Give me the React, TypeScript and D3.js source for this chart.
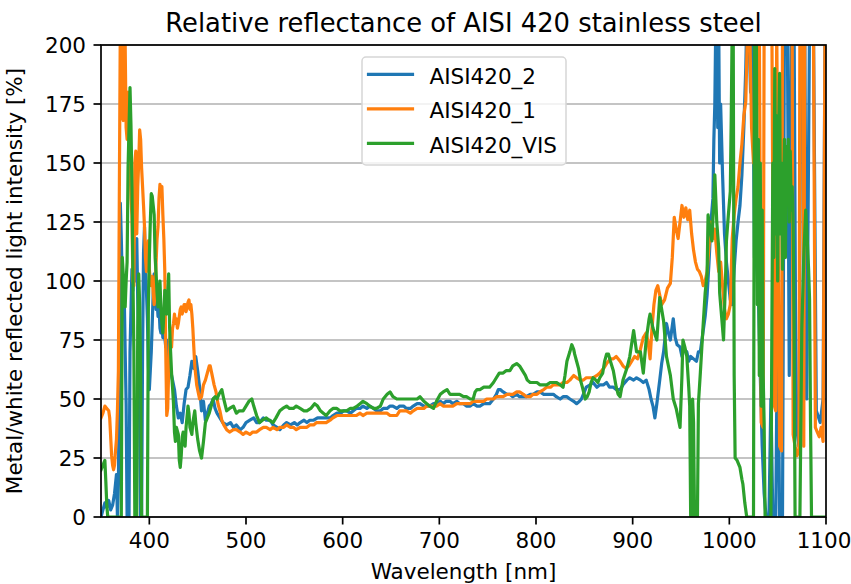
import React from 'react';
import * as d3 from 'd3';

// ---- data: wavelength [nm], metal/white reflected intensity [%] ----
const AISI420_2: [number, number][] = [
  [350, 0], [352, 3], [354, 6], [356, 4], [358, 7], [360, 3], [362, 5], [364, 10], [366, 18], [367, 0],
  [368, 14], [369, 60], [370, 133], [371, 118], [372, 100], [373, 86], [374, 95], [375, 70], [376, 48], [377, 0],
  [379, 0], [380, 70], [382, 105], [383, 96], [384, 112], [386, 100], [387, 118], [388, 92], [389, 72], [390, 40],
  [391, 0], [392, 0], [393, 70], [394, 112], [395, 123], [396, 105], [397, 96], [398, 84], [399, 64], [400, 54],
  [401, 62], [402, 70], [403, 82], [404, 95], [405, 103], [406, 96], [407, 88], [408, 92], [409, 85], [410, 89],
  [411, 80], [412, 78], [413, 82], [414, 76], [415, 80], [416, 76], [417, 72], [418, 75], [420, 66], [421, 70],
  [422, 62], [424, 58], [426, 54], [428, 47], [430, 42], [432, 44], [434, 40], [436, 48], [438, 54], [440, 55],
  [442, 60], [444, 66], [446, 63], [448, 68], [450, 62], [452, 55], [454, 45], [456, 49], [458, 41], [460, 44],
  [462, 47], [464, 48], [466, 50], [468, 46], [470, 44], [473, 42], [476, 40], [480, 39], [484, 40], [487, 38],
  [490, 39], [494, 37], [497, 38], [500, 40], [504, 41], [508, 42], [511, 40], [514, 40], [518, 42], [521, 41],
  [525, 41], [528, 39], [532, 38], [535, 37], [539, 39], [542, 40], [546, 39], [550, 40], [553, 39], [556, 40],
  [560, 41], [563, 40], [566, 41], [570, 41], [574, 42], [578, 42], [583, 42], [587, 42], [590, 43], [594, 44],
  [598, 44], [601, 45], [604, 45], [608, 44], [611, 45], [614, 46], [618, 46], [621, 47], [625, 46], [628, 47],
  [632, 46], [635, 45], [639, 45], [642, 46], [646, 46], [649, 47], [652, 47], [656, 46], [659, 47], [663, 47],
  [666, 46], [670, 46], [673, 47], [677, 48], [680, 48], [684, 47], [687, 47], [690, 47], [694, 48], [697, 48],
  [701, 49], [704, 48], [707, 49], [711, 49], [714, 48], [718, 49], [721, 48], [725, 48], [728, 47], [732, 47],
  [735, 48], [739, 47], [742, 47], [746, 48], [749, 48], [752, 48], [756, 50], [759, 52], [761, 54], [763, 54],
  [766, 53], [770, 52], [773, 52], [776, 51], [780, 52], [783, 51], [787, 51], [790, 51], [794, 52], [797, 52],
  [801, 53], [804, 53], [808, 52], [811, 52], [815, 52], [818, 52], [821, 51], [825, 50], [828, 51], [832, 51],
  [835, 50], [839, 49], [842, 48], [845, 49], [847, 50], [850, 53], [852, 55], [856, 56], [859, 57], [863, 55],
  [866, 56], [870, 56], [873, 57], [876, 55], [880, 55], [883, 54], [887, 54], [890, 56], [894, 58], [897, 59],
  [901, 58], [904, 59], [908, 58], [911, 57], [914, 58], [917, 54], [919, 50], [921, 47], [923, 42], [925, 48],
  [928, 58], [930, 65], [932, 70], [935, 82], [937, 78], [939, 75], [942, 84], [944, 76], [946, 73], [949, 72],
  [951, 68], [953, 71], [956, 70], [958, 66], [960, 68], [963, 67], [966, 66], [968, 70], [970, 70], [972, 76],
  [975, 85], [977, 94], [979, 108], [981, 125], [983, 135], [984, 160], [985, 175], [986, 210], [987, 210], [988, 165],
  [989, 210], [990, 150], [991, 175], [993, 145], [995, 120], [997, 108], [999, 100], [1001, 92], [1003, 90], [1005, 105],
  [1007, 117], [1009, 125], [1011, 132], [1013, 145], [1015, 165], [1017, 190], [1018, 210], [1020, 210], [1022, 180], [1024, 210],
  [1026, 110], [1028, 108], [1030, 95], [1032, 60], [1034, 30], [1036, 10], [1038, 0], [1041, 0], [1043, 50], [1045, 0],
  [1048, 0], [1050, 90], [1052, 0], [1055, 0], [1057, 210], [1060, 210], [1062, 60], [1064, 210], [1067, 210], [1069, 40],
  [1072, 30], [1074, 210], [1078, 210], [1080, 50], [1083, 210], [1087, 210], [1090, 45], [1094, 40], [1097, 50], [1099, 210],
  [1100, 210],
];

const AISI420_1: [number, number][] = [
  [350, 42], [352, 44], [354, 47], [356, 46], [358, 45], [359, 42], [361, 26], [362, 22], [363, 20], [364, 22],
  [365, 28], [366, 33], [367, 45], [368, 62], [369, 140], [370, 210], [371, 190], [372, 170], [373, 168], [374, 210],
  [375, 200], [376, 165], [377, 160], [378, 180], [379, 160], [380, 150], [381, 135], [382, 128], [383, 100], [384, 98],
  [385, 150], [386, 155], [387, 120], [388, 140], [389, 150], [390, 164], [391, 160], [392, 148], [393, 140], [394, 132],
  [395, 123], [396, 110], [397, 104], [398, 112], [399, 117], [400, 105], [401, 100], [402, 98], [403, 102], [404, 95],
  [405, 90], [406, 96], [407, 108], [408, 118], [409, 123], [410, 135], [411, 141], [412, 138], [413, 140], [414, 128],
  [415, 118], [416, 104], [417, 70], [418, 43], [419, 46], [420, 62], [421, 75], [422, 78], [423, 72], [424, 80],
  [425, 82], [426, 86], [427, 82], [428, 84], [429, 80], [430, 82], [431, 85], [432, 88], [433, 89], [434, 86],
  [435, 88], [436, 90], [437, 90], [438, 87], [439, 89], [440, 91], [441, 92], [442, 88], [443, 90], [444, 86],
  [445, 80], [446, 72], [447, 64], [448, 60], [449, 56], [450, 54], [452, 50], [454, 51], [456, 56], [458, 58],
  [460, 61], [462, 64], [463, 64], [465, 60], [467, 56], [469, 53], [471, 48], [473, 45], [475, 41], [477, 39],
  [480, 37], [483, 36], [487, 37], [490, 37], [494, 36], [497, 35], [500, 36], [504, 35], [507, 36], [511, 36],
  [514, 37], [518, 38], [521, 38], [525, 37], [528, 38], [532, 37], [535, 38], [539, 38], [542, 39], [546, 38],
  [549, 38], [552, 37], [556, 38], [560, 38], [563, 38], [566, 39], [570, 39], [573, 40], [577, 40], [580, 40],
  [583, 40], [587, 41], [590, 42], [594, 43], [597, 43], [601, 43], [604, 43], [608, 43], [611, 43], [614, 43],
  [618, 44], [621, 43], [625, 44], [628, 44], [632, 44], [635, 44], [639, 44], [642, 44], [646, 44], [649, 43],
  [652, 43], [656, 43], [659, 45], [663, 45], [666, 45], [670, 44], [673, 45], [677, 46], [680, 46], [684, 46],
  [687, 47], [690, 47], [694, 47], [697, 47], [701, 48], [704, 47], [707, 47], [711, 47], [714, 47], [718, 48],
  [721, 48], [725, 48], [728, 48], [732, 48], [735, 49], [739, 49], [742, 49], [746, 49], [749, 50], [752, 50],
  [756, 50], [759, 51], [763, 51], [766, 51], [770, 52], [773, 52], [776, 52], [780, 53], [783, 53], [787, 52],
  [790, 51], [794, 51], [797, 52], [801, 52], [804, 53], [808, 54], [811, 55], [815, 55], [818, 56], [821, 56],
  [825, 56], [828, 57], [832, 57], [835, 58], [839, 60], [842, 59], [846, 58], [849, 58], [852, 59], [856, 59],
  [859, 59], [863, 60], [866, 61], [870, 63], [873, 65], [877, 67], [880, 67], [883, 68], [887, 66], [890, 64],
  [893, 63], [896, 64], [899, 66], [902, 68], [905, 67], [908, 71], [911, 76], [914, 78], [916, 74], [918, 67],
  [920, 80], [922, 90], [924, 96], [926, 98], [928, 94], [930, 90], [933, 92], [936, 97], [939, 99], [941, 110],
  [943, 127], [945, 122], [947, 118], [949, 125], [951, 132], [953, 127], [955, 131], [957, 126], [959, 130], [961, 120],
  [963, 113], [965, 108], [967, 105], [969, 104], [971, 102], [973, 98], [975, 100], [977, 104], [979, 115], [981, 125],
  [983, 118], [985, 122], [987, 112], [989, 104], [991, 108], [993, 98], [995, 88], [997, 84], [999, 86], [1001, 90],
  [1003, 118], [1005, 128], [1007, 135], [1009, 140], [1011, 150], [1013, 158], [1015, 170], [1017, 176], [1019, 210], [1021, 210],
  [1023, 165], [1025, 150], [1027, 160], [1029, 210], [1031, 210], [1033, 40], [1035, 38], [1036, 210], [1040, 210], [1044, 210],
  [1046, 48], [1048, 45], [1049, 210], [1052, 30], [1054, 28], [1055, 210], [1058, 210], [1062, 210], [1065, 210], [1066, 35],
  [1068, 30], [1070, 26], [1072, 28], [1073, 210], [1076, 210], [1077, 30], [1078, 210], [1083, 210], [1087, 210], [1089, 38],
  [1091, 36], [1093, 34], [1095, 38], [1097, 32], [1099, 210], [1100, 210],
];

const AISI420_VIS: [number, number][] = [
  [350, 20], [352, 22], [354, 24], [355, 15], [356, 5], [357, 0], [371, 0], [372, 110], [373, 103], [374, 95],
  [375, 89], [376, 100], [377, 108], [378, 148], [379, 165], [380, 182], [381, 166], [382, 140], [383, 103], [384, 70],
  [385, 0], [387, 0], [388, 80], [389, 103], [390, 90], [391, 60], [392, 0], [398, 0], [399, 89], [400, 110],
  [401, 125], [402, 137], [403, 136], [404, 132], [405, 128], [406, 110], [407, 103], [408, 95], [409, 89], [410, 95],
  [411, 100], [412, 88], [413, 82], [414, 78], [415, 86], [416, 96], [417, 92], [418, 86], [419, 95], [420, 103],
  [421, 80], [422, 70], [423, 61], [424, 55], [425, 48], [426, 36], [427, 32], [428, 38], [430, 35], [431, 24],
  [432, 21], [433, 26], [434, 34], [435, 36], [436, 32], [437, 30], [438, 38], [440, 47], [441, 44], [442, 38],
  [444, 35], [445, 40], [447, 45], [448, 40], [450, 33], [452, 28], [454, 25], [456, 32], [458, 40], [460, 42],
  [462, 44], [464, 47], [466, 50], [468, 51], [470, 50], [472, 52], [475, 54], [477, 50], [480, 45], [483, 46],
  [487, 47], [490, 44], [493, 45], [497, 45], [500, 47], [503, 49], [506, 50], [508, 47], [511, 43], [514, 40],
  [517, 41], [521, 42], [524, 41], [528, 40], [531, 42], [535, 45], [538, 46], [542, 47], [545, 46], [549, 46],
  [552, 47], [556, 46], [560, 45], [563, 45], [567, 46], [571, 48], [574, 47], [577, 45], [580, 44], [583, 43],
  [587, 45], [590, 46], [594, 46], [597, 45], [601, 45], [604, 45], [608, 46], [611, 46], [615, 47], [618, 48],
  [621, 49], [625, 48], [628, 47], [632, 46], [635, 46], [639, 47], [642, 50], [646, 52], [649, 53], [652, 51],
  [656, 50], [659, 50], [663, 50], [666, 50], [670, 50], [673, 50], [677, 50], [680, 51], [684, 49], [687, 48],
  [690, 47], [694, 46], [697, 49], [701, 52], [704, 53], [708, 54], [711, 52], [714, 52], [718, 52], [721, 52],
  [725, 51], [728, 51], [732, 50], [735, 50], [737, 53], [739, 54], [742, 54], [746, 55], [749, 55], [752, 55],
  [756, 57], [759, 59], [762, 61], [766, 61], [769, 62], [773, 62], [776, 64], [780, 65], [783, 64], [786, 62],
  [789, 60], [791, 58], [794, 57], [797, 57], [801, 57], [804, 56], [808, 56], [811, 56], [815, 57], [818, 57],
  [821, 57], [825, 56], [828, 55], [830, 60], [832, 66], [835, 70], [837, 73], [839, 71], [840, 69], [842, 66],
  [844, 63], [846, 58], [848, 55], [851, 50], [853, 51], [855, 53], [857, 57], [859, 59], [862, 58], [864, 57],
  [866, 59], [869, 61], [871, 66], [873, 69], [875, 69], [877, 66], [880, 62], [883, 55], [885, 52], [887, 51],
  [890, 58], [894, 63], [897, 68], [901, 79], [904, 70], [908, 70], [911, 61], [914, 75], [917, 84], [918, 86],
  [921, 80], [925, 75], [928, 93], [930, 88], [932, 83], [935, 68], [937, 64], [939, 60], [942, 50], [945, 46],
  [947, 42], [949, 38], [951, 60], [952, 75], [954, 72], [956, 68], [958, 55], [959, 47], [960, 0], [961, 0],
  [962, 50], [963, 40], [964, 0], [967, 0], [968, 48], [970, 61], [972, 75], [973, 82], [975, 95], [977, 103],
  [978, 128], [980, 122], [982, 117], [984, 135], [985, 145], [987, 125], [989, 114], [990, 95], [992, 85], [994, 75],
  [996, 100], [997, 117], [999, 128], [1001, 138], [1002, 170], [1003, 210], [1004, 210], [1005, 60], [1006, 25], [1008, 24],
  [1011, 21], [1013, 16], [1014, 14], [1016, 6], [1018, 0], [1025, 0], [1026, 210], [1028, 200], [1029, 90], [1030, 160],
  [1031, 60], [1032, 150], [1033, 47], [1034, 130], [1035, 60], [1036, 40], [1037, 0], [1043, 0], [1044, 80], [1045, 150],
  [1046, 110], [1047, 190], [1048, 120], [1049, 170], [1050, 100], [1051, 160], [1052, 188], [1053, 120], [1054, 150], [1055, 105],
  [1056, 130], [1057, 160], [1058, 110], [1059, 157], [1060, 140], [1061, 160], [1062, 125], [1063, 155], [1064, 130], [1065, 140],
  [1066, 123], [1067, 80], [1068, 0], [1073, 0], [1075, 80], [1077, 110], [1079, 130], [1080, 123], [1082, 105], [1083, 92],
  [1084, 40], [1085, 0], [1100, 0],
];

const seriesNames = ['AISI420_2', 'AISI420_1', 'AISI420_VIS'];
const seriesData = [AISI420_2, AISI420_1, AISI420_VIS];
const seriesColors = ['#1f77b4', '#ff7f0e', '#2ca02c'];

const xTicks = [400, 500, 600, 700, 800, 900, 1000, 1100];
const yTicks = [0, 25, 50, 75, 100, 125, 150, 175, 200];

const titleText = 'Relative reflectance of AISI 420 stainless steel';
const xLabel = 'Wavelength [nm]';
const yLabel = 'Metal/white reflected light intensity [%]';

// ---- layout ----
const W = 851;
const H = 584;
const plot = { left: 101, right: 826, top: 45, bottom: 517 };
const FONT = '"DejaVu Sans", "Liberation Sans", sans-serif';
const fs = 21.5;
const lw = 3.2;
const tickLen = 7.5;

export default function App() {
  const x = d3.scaleLinear().domain([350, 1100]).range([plot.left, plot.right]);
  const y = d3.scaleLinear().domain([0, 200]).range([plot.bottom, plot.top]);
  const line = d3
    .line<[number, number]>()
    .x((d) => x(d[0]))
    .y((d) => y(d[1]));

  const legend = { x0: 362, y0: 57, x1: 566, y1: 165 };
  const rowY = [74.3, 108.8, 143.3];

  // keep the rightmost tick label inside the canvas
  const labelX = (t: number) => Math.min(x(t), W - 27);

  return (
    <svg
      width={W}
      height={H}
      viewBox={`0 0 ${W} ${H}`}
      style={{ position: 'absolute', left: 0, top: 0, background: '#fff' }}
      fontFamily={FONT}
    >
      <defs>
        <clipPath id="plot-area">
          <rect x={plot.left} y={plot.top} width={plot.right - plot.left} height={plot.bottom - plot.top} />
        </clipPath>
      </defs>
      <rect x={0} y={0} width={W} height={H} fill="#fff" />

      {/* horizontal grid */}
      <g>
        {yTicks.map((t) => (
          <line key={t} x1={plot.left} x2={plot.right} y1={y(t)} y2={y(t)} stroke="#b0b0b0" strokeWidth={1.7} />
        ))}
      </g>

      {/* spectra */}
      <g clipPath="url(#plot-area)">
        {seriesData.map((s, i) => (
          <path
            key={seriesNames[i]}
            d={line(s) || ''}
            fill="none"
            stroke={seriesColors[i]}
            strokeWidth={lw}
            strokeLinejoin="round"
            strokeLinecap="square"
          />
        ))}
      </g>

      {/* frame */}
      <rect
        x={plot.left}
        y={plot.top}
        width={plot.right - plot.left}
        height={plot.bottom - plot.top}
        fill="none"
        stroke="#000"
        strokeWidth={1.7}
      />

      {/* x axis */}
      <g fontSize={fs} fill="#000">
        {xTicks.map((t) => (
          <g key={t}>
            <line x1={x(t)} x2={x(t)} y1={plot.bottom} y2={plot.bottom + tickLen} stroke="#000" strokeWidth={1.7} />
            <text x={labelX(t)} y={548} textAnchor="middle">
              {t}
            </text>
          </g>
        ))}
        <text x={(plot.left + plot.right) / 2} y={579} textAnchor="middle">
          {xLabel}
        </text>
      </g>

      {/* y axis */}
      <g fontSize={fs} fill="#000">
        {yTicks.map((t) => (
          <g key={t}>
            <line x1={plot.left - tickLen} x2={plot.left} y1={y(t)} y2={y(t)} stroke="#000" strokeWidth={1.7} />
            <text x={plot.left - tickLen - 7.5} y={y(t) + 7.8} textAnchor="end">
              {t}
            </text>
          </g>
        ))}
        <text
          transform={`translate(22, ${(plot.top + plot.bottom) / 2}) rotate(-90)`}
          textAnchor="middle"
        >
          {yLabel}
        </text>
      </g>

      {/* title */}
      <text x={(plot.left + plot.right) / 2} y={32} textAnchor="middle" fontSize={25.8} fill="#000">
        {titleText}
      </text>

      {/* legend */}
      <g>
        <rect
          x={legend.x0}
          y={legend.y0}
          width={legend.x1 - legend.x0}
          height={legend.y1 - legend.y0}
          rx={4}
          fill="#fff"
          fillOpacity={0.8}
          stroke="#d6d6d6"
          strokeWidth={1.5}
        />
        {seriesNames.map((name, i) => (
          <g key={name}>
            <line
              x1={368.5}
              x2={412.5}
              y1={rowY[i]}
              y2={rowY[i]}
              stroke={seriesColors[i]}
              strokeWidth={lw}
              strokeLinecap="square"
            />
            <text x={429.5} y={rowY[i] + 9.5} fontSize={fs} fill="#000">
              {name}
            </text>
          </g>
        ))}
      </g>
    </svg>
  );
}
